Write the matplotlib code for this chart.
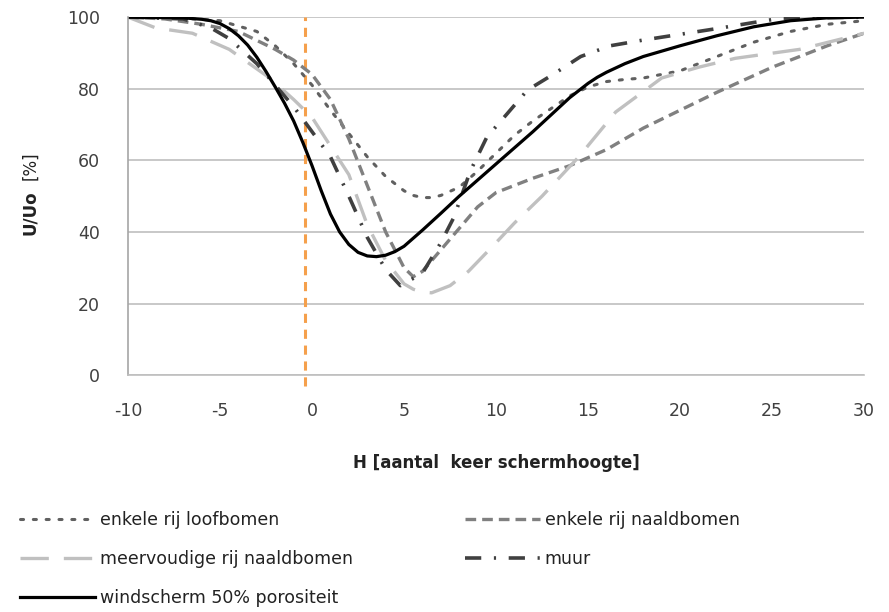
import matplotlib
matplotlib.use("Agg")
import matplotlib.pyplot as plt

plt.rcParams["axes.unicode_minus"] = False

# Data (x = H in screen heights, y = U/U0 in %)
x_loof = [-10, -7, -5, -3, -2, -1, 0, 1, 2, 3, 4, 5, 5.5, 6, 6.5, 7, 8, 9, 10, 11, 12, 13, 14, 15, 16, 17, 18, 20, 22, 24, 26, 28, 30]
y_loof = [100, 99.7, 99, 96, 92, 87, 81, 74, 67.5, 61, 55.5, 51.5, 50.2, 49.6, 49.6, 50.2, 52.5, 57, 62, 67, 71, 74.5, 78, 80.5, 82, 82.6, 83, 85, 89, 93, 96, 98, 99]

x_naald = [-10, -8, -6, -4, -2, -1, 0, 1, 2, 3, 4, 5, 5.5, 6, 7, 8, 9, 10, 12, 14, 16, 18, 20, 22, 25, 28, 30]
y_naald = [100, 99.5, 98, 96, 91, 88, 84, 77, 66, 53, 40, 30, 27.5, 29, 35, 41, 47, 51, 55, 58.5, 63, 69, 74, 79, 86, 92, 95.5]

x_meer = [-10, -8.5, -6.5, -4.5, -2.3, -1, 0, 1, 2, 3, 4, 5, 5.5, 6, 6.5, 7.5, 8.5, 10, 11, 12.5, 14.5, 16.5, 19, 21, 23, 26.5, 30]
y_meer = [100, 97, 95.5, 91, 83, 77, 72, 64, 56, 42, 32, 25.5, 24, 23.2, 23, 25, 29, 37, 42.5, 50, 61, 73.5, 83, 86, 88.5, 91, 95.5]

x_muur = [-10, -7, -5.5, -4.5, -3, -2, -1, 0, 1, 2, 3, 4, 4.8, 6, 7, 7.7, 8.6, 9.5, 10.6, 11.7, 13.1, 14.6, 16.2, 18, 20, 22, 24, 25.5, 30]
y_muur = [100, 99.5, 97, 94, 87, 81, 75, 68, 61, 50, 38.5, 29.5, 25, 28.5, 37, 44, 57, 66.5, 73, 79.6, 84, 89, 92, 93.6, 95.2, 96.8, 98.5, 99.7, 100]

x_wind = [-10, -7, -6, -5.5, -5, -4.5, -4, -3.5, -3, -2.5, -2, -1.5, -1, -0.5, 0, 0.5, 1, 1.5, 2, 2.5, 3, 3.5, 4, 4.5, 5, 6, 7, 8, 10, 12, 14, 15, 15.5, 16, 17, 18, 20, 22, 24, 26, 28, 30]
y_wind = [100, 99.8, 99.4, 99, 98.2, 96.8, 94.8, 92.2, 88.8, 84.8, 80.5, 76, 71, 65, 58.5, 51.5, 45, 40, 36.5, 34.3, 33.3, 33.1, 33.5, 34.5, 36, 40.5, 45.2, 50, 59, 68, 77.5, 81.5, 83.2, 84.6, 87, 89, 92, 94.8, 97.3, 99, 99.8, 100]

labels = ["enkele rij loofbomen", "enkele rij naaldbomen", "meervoudige rij naaldbomen",
          "muur", "windscherm 50% porositeit"]
ref_x = -0.4
x_ticks = [-10, -5, 0, 5, 10, 15, 20, 25, 30]
y_ticks = [0, 20, 40, 60, 80, 100]

fig = plt.figure(figsize=(8.89, 6.12), dpi=100)
ax = fig.add_axes([0.144, 0.387, 0.828, 0.585])

tick_color = "#404040"
grid_color = "#bfbfbf"

styles = [
    dict(color="#606060", lw=2.2, ls=(0, (1, 3.2)), dash_capstyle="round"),
    dict(color="#808080", lw=2.4, ls=(0, (3.2, 1.8))),
    dict(color="#c0c0c0", lw=2.4, ls=(0, (8.5, 4.5))),
    dict(color="#404040", lw=2.6, ls=(0, (4.5, 3.5, 0.6, 3.5))),
    dict(color="#000000", lw=2.3, ls="-"),
]
series = [(x_loof, y_loof), (x_naald, y_naald), (x_meer, y_meer), (x_muur, y_muur), (x_wind, y_wind)]

handles = []
for (xs, ys), st, lab in zip(series, styles, labels):
    ln, = ax.plot(xs, ys, label=lab, solid_joinstyle="round", **st)
    handles.append(ln)

ax.axvline(ref_x, color="#f5a04c", lw=2.2, ls=(0, (3, 2.2)), ymin=-0.03, ymax=1.0, clip_on=False, zorder=1)

ax.set_xlim(-10, 30)
ax.set_ylim(0, 100)
ax.set_xticks(x_ticks)
ax.set_yticks(y_ticks)
ax.yaxis.grid(True, color=grid_color, lw=1.2)
ax.set_axisbelow(True)
for s in ["top", "right"]:
    ax.spines[s].set_visible(False)
ax.spines["left"].set_color("#a6a6a6")
ax.spines["left"].set_linewidth(1.2)
ax.spines["bottom"].set_color("#bfbfbf")
ax.spines["bottom"].set_linewidth(1.2)
ax.tick_params(axis="both", length=0, labelsize=12.5, labelcolor=tick_color)
ax.tick_params(axis="x", pad=19)
ax.tick_params(axis="y", pad=20)

ax.set_xlabel("H [aantal  keer schermhoogte]", fontsize=12, fontweight="bold", color="#222222", labelpad=25)

# y label: bold "U/Uo" plus regular "[%]"
fig.text(0.034, 0.652, "U/Uo", rotation=90, fontsize=12, fontweight="bold", color="#222222",
         ha="center", va="center")
fig.text(0.034, 0.730, "[%]", rotation=90, fontsize=12, color="#222222",
         ha="center", va="center")

order = [0, 2, 4, 1, 3]
fig.legend([handles[i] for i in order], [labels[i] for i in order],
           ncol=2, frameon=False, loc="upper left", bbox_to_anchor=(0.005, 0.19),
           fontsize=12.5, handlelength=4.3, handletextpad=0.3, columnspacing=6.45,
           labelspacing=1.2, labelcolor="#222222")

fig.savefig("out.png", dpi=100)
